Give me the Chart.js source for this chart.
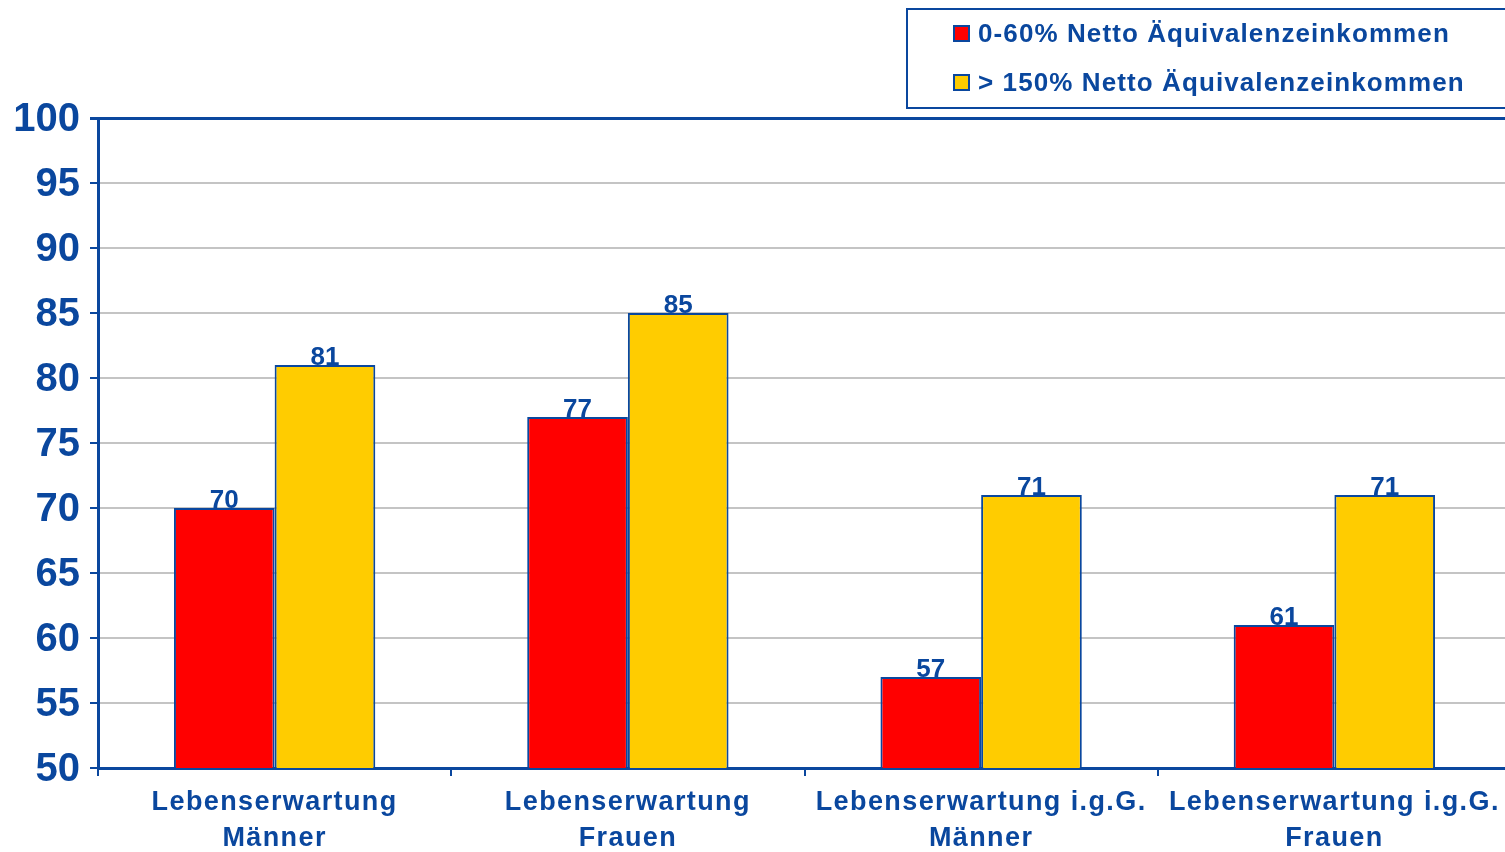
<!DOCTYPE html>
<html>
<head>
<meta charset="utf-8">
<script src="https://cdn.jsdelivr.net/npm/chart.js@4.4.0/dist/chart.umd.min.js"></script>
<style>
    html, body { margin: 0; padding: 0; background: #fff; overflow: hidden; }
    #wrap { width: 1505px; height: 852px; overflow: hidden; }
</style>
</head>
<body>
<div id="wrap"><canvas id="chart" width="1511" height="852"></canvas></div>
<script>
// Lebenserwartung nach Einkommensgruppe
const categories = [
    ['Lebenserwartung', 'Männer'],
    ['Lebenserwartung', 'Frauen'],
    ['Lebenserwartung i.g.G.', 'Männer'],
    ['Lebenserwartung i.g.G.', 'Frauen']
];
const seriesNames = ['0-60% Netto Äquivalenzeinkommen', '> 150% Netto Äquivalenzeinkommen'];
const lowIncome = [70, 77, 57, 61];
const highIncome = [81, 85, 71, 71];
const yTicks = [50, 55, 60, 65, 70, 75, 80, 85, 90, 95, 100];

const BLUE = '#0A479E';
const RED = '#FF0000';
const YELLOW = '#FFCC00';
const GRID = '#C4C4C4';
const FONT = '"Liberation Sans", Arial, sans-serif';

// value labels above each bar
const valueLabels = {
    id: 'valueLabels',
    afterDatasetsDraw(chart) {
        const ctx = chart.ctx;
        ctx.save();
        ctx.font = 'bold 26px ' + FONT;
        ctx.fillStyle = BLUE;
        ctx.textAlign = 'center';
        ctx.textBaseline = 'alphabetic';
        chart.data.datasets.forEach((ds, i) => {
            chart.getDatasetMeta(i).data.forEach((bar, j) => {
                ctx.fillText(ds.data[j], bar.x, bar.y);
            });
        });
        ctx.restore();
    }
};

// two-line category labels under the x axis
const categoryLabels = {
    id: 'categoryLabels',
    afterDraw(chart) {
        const ctx = chart.ctx;
        const x = chart.scales.x;
        ctx.save();
        ctx.font = 'bold 27px ' + FONT;
        ctx.fillStyle = BLUE;
        ctx.textAlign = 'center';
        ctx.textBaseline = 'middle';
        ctx.letterSpacing = '1.4px';
        categories.forEach((lines, i) => {
            const cx = x.getPixelForValue(i);
            lines.forEach((line, k) => {
                ctx.fillText(line, cx, 803 + k * 36);
            });
        });
        ctx.restore();
    }
};

// boxed legend in the top right corner
const boxLegend = {
    id: 'boxLegend',
    afterDraw(chart) {
        const ctx = chart.ctx;
        const colors = [RED, YELLOW];
        ctx.save();
        ctx.strokeStyle = BLUE;
        ctx.lineWidth = 2;
        ctx.strokeRect(907, 9, 620, 99);
        ctx.font = 'bold 26px ' + FONT;
        ctx.textBaseline = 'middle';
        ctx.letterSpacing = '1.1px';
        seriesNames.forEach((name, i) => {
            const cy = 34 + i * 49;
            ctx.fillStyle = colors[i];
            ctx.fillRect(954, cy - 8, 15, 15);
            ctx.lineWidth = 2;
            ctx.strokeRect(954, cy - 8, 15, 15);
            ctx.fillStyle = BLUE;
            ctx.fillText(name, 978, cy + 1);
        });
        ctx.restore();
    }
};

const chart = new Chart(document.getElementById('chart'), {
    type: 'bar',
    data: {
        labels: categories,
        datasets: [
            {
                label: seriesNames[0],
                data: lowIncome,
                backgroundColor: RED,
                borderColor: BLUE,
                borderWidth: 2,
                borderSkipped: false
            },
            {
                label: seriesNames[1],
                data: highIncome,
                backgroundColor: YELLOW,
                borderColor: BLUE,
                borderWidth: 2,
                borderSkipped: false
            }
        ]
    },
    options: {
        responsive: false,
        animation: false,
        layout: { padding: { top: 118, right: 0, left: 0, bottom: 0 } },
        plugins: {
            legend: { display: false },
            tooltip: { enabled: false }
        },
        datasets: {
            bar: { categoryPercentage: 0.57, barPercentage: 1 }
        },
        scales: {
            x: {
                afterFit(scale) { scale.height = 84; },
                ticks: { display: false },
                grid: {
                    offset: true,
                    drawOnChartArea: false,
                    drawTicks: true,
                    tickLength: 8,
                    color: BLUE,
                    lineWidth: 2
                },
                border: { color: BLUE, width: 3 }
            },
            y: {
                min: 50,
                max: 100,
                afterFit(scale) { scale.width = 98; },
                afterBuildTicks(scale) {
                    scale.ticks = yTicks.map(v => ({ value: v }));
                },
                ticks: {
                    padding: 10,
                    labelOffset: 2,
                    color: BLUE,
                    font: { family: FONT, size: 40, weight: 'bold' }
                },
                grid: {
                    color: c => (c.tick && c.tick.value === 100 ? BLUE : GRID),
                    lineWidth: c => (c.tick && c.tick.value === 100 ? 3 : 2),
                    tickColor: BLUE,
                    tickLength: 8
                },
                border: { color: BLUE, width: 3 }
            }
        }
    },
    plugins: [valueLabels, categoryLabels, boxLegend]
});
</script>
</body>
</html>
